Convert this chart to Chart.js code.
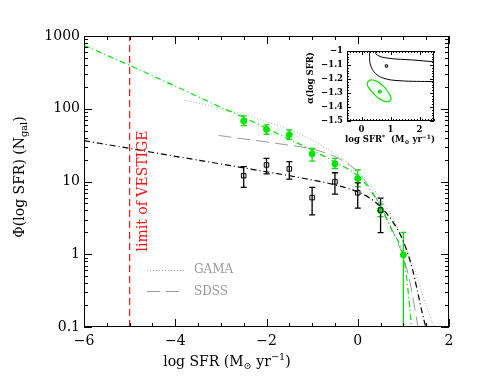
<!DOCTYPE html>
<html>
<head>
<meta charset="utf-8">
<script src="https://cdn.jsdelivr.net/npm/chart.js@4.4.1/dist/chart.umd.min.js"></script>
<style>
  html, body { margin: 0; padding: 0; background: #fff; }
  #wrap { position: relative; width: 491px; height: 387px; }
  #main { position: absolute; left: 0; top: 0; }
  #inset { position: absolute; left: 290px; top: 40px; }
</style>
</head>
<body>
<div id="wrap">
  <canvas id="main" width="491" height="387"></canvas>
  <canvas id="inset" width="155" height="112"></canvas>
</div>
<script>
// ---- main panel data ----
const gamaX = [-3.8, -3.5, -3, -2.5, -2, -1.5, -1, -0.5, 0, 0.25, 0.5, 0.75, 1, 1.25, 1.5, 1.7];
const gamaY = [130, 120, 101, 83, 66, 52, 37, 24, 14, 9.5, 5.8, 3.3, 1.5, 0.6, 0.2, 0.09];

const sdssX = [-3.05, -2.5, -2, -1.5, -1, -0.5, -0.25, 0, 0.25, 0.5, 0.75, 1, 1.15, 1.32];
const sdssY = [43, 38.5, 35, 31.5, 28, 22, 18, 13.5, 8.5, 4.6, 2.2, 0.9, 0.4, 0.1];

// Schechter fits drawn in the figure
const fitGreenX = [-6, -5, -4, -3, -2.5, -2, -1.5, -1, -0.5, 0, 0.25, 0.5, 0.75, 1, 1.1, 1.2];
const fitGreenY = [745, 395, 205, 105, 76, 54, 38, 27, 18.5, 12, 8, 4.5, 2.1, 0.93, 0.33, 0.07];

const fitBlackX = [-6, -5, -4, -3, -2, -1, -0.5, 0, 0.25, 0.5, 0.75, 1, 1.2, 1.3, 1.4, 1.55];
const fitBlackY = [36.4, 28.5, 22.2, 17.4, 13.6, 10.5, 9.0, 7.2, 6.0, 4.5, 2.9, 1.5, 0.62, 0.33, 0.17, 0.07];

// binned counts
const greenX = [-2.5, -2, -1.5, -1, -0.5, 0, 0.5, 1];
const greenY = [68, 52, 44, 24, 17.5, 11, 4.0, 0.98];
const greenLo = [58.5, 44.6, 38, 19.1, 15.1, 8.5, 3.3, null];
const greenHi = [80, 60, 51, 28.6, 20.8, 14.4, 4.9, 2.0];

const blackX = [-2.5, -2, -1.5, -1, -0.5, 0, 0.5];
const blackY = [12, 16.9, 14.9, 6.0, 9.9, 7.0, 4.05];
const blackLo = [8.3, 12.7, 10.8, 3.47, 6.7, 4.3, 1.98];
const blackHi = [16, 20.8, 18.7, 8.3, 13.2, 9.6, 5.9];

const limitX = [-5, -5];
const limitY = [0.1, 1000];

const xTickVals = [-6, -4, -2, 0, 2];
const yTickVals = [0.1, 1, 10, 100, 1000];

// ---- inset data ----
const contourX = [2.5, 1.75, 0.94, 0.55, 0.42, 0.3, 0.28, 0.31, 0.48, 0.77, 1.29, 2.5];
const contourY = [-1.077, -1.064, -1.052, -1.03, -0.99, -1.0, -1.04, -1.10, -1.16, -1.195, -1.212, -1.219];
const ellipseX = [0.42, 0.6, 0.8, 0.97, 1.02, 0.95, 0.8, 0.6, 0.4, 0.24, 0.2, 0.27, 0.42];
const ellipseY = [-1.207, -1.225, -1.26, -1.31, -1.34, -1.36, -1.36, -1.34, -1.3, -1.26, -1.235, -1.21, -1.207];
const bestBlack = [0.86, -1.107];
const bestGreen = [0.63, -1.29];
const insetXTicks = [0, 1, 2];
const insetYTicks = [-1.5, -1.4, -1.3, -1.2, -1.1, -1];

const GREEN = '#00e400';
const RED = '#ff1010';
const FONT = '"DejaVu Serif", serif';

const pts = (xs, ys) => xs.map((x, i) => ({ x, y: ys[i] }));
const minus = v => String(v).replace('-', '\u2212');

// text with sub/superscripts, centered at (cx, cy)
function drawRich(ctx, parts, cx, cy, size, weight) {
  weight = weight || '';
  let w = 0;
  parts.forEach(([t, k]) => {
    ctx.font = `${weight} ${k ? size * 0.7 : size}px ${FONT}`;
    w += ctx.measureText(t).width;
  });
  let x = cx - w / 2;
  ctx.textAlign = 'left';
  ctx.textBaseline = 'middle';
  parts.forEach(([t, k]) => {
    const s = k ? size * 0.7 : size;
    ctx.font = `${weight} ${s}px ${FONT}`;
    ctx.fillText(t, x, cy + (k < 0 ? s * 0.45 : k > 0 ? -s * 0.5 : 0));
    x += ctx.measureText(t).width;
  });
}

// inward ticks on all four sides + frame
function drawBoxTicks(chart, xt, yt) {
  const ctx = chart.ctx;
  const a = chart.chartArea;
  const sx = chart.scales.x, sy = chart.scales.y;
  ctx.save();
  ctx.fillStyle = '#000';
  xt.forEach(([v, len]) => {
    const p = Math.round(sx.getPixelForValue(v));
    ctx.fillRect(p, a.bottom - len, 1, len);
    ctx.fillRect(p, a.top, 1, len);
  });
  yt.forEach(([v, len]) => {
    const p = Math.round(sy.getPixelForValue(v));
    ctx.fillRect(a.left, p, len, 1);
    ctx.fillRect(a.right - len, p, len, 1);
  });
  ctx.strokeStyle = '#000';
  ctx.lineWidth = 1;
  ctx.strokeRect(a.left + 0.5, a.top + 0.5, a.right - a.left - 1, a.bottom - a.top - 1);
  ctx.restore();
}

function drawErrBars(chart, xs, ys, lo, hi, color) {
  const { ctx, chartArea: a } = chart;
  const sx = chart.scales.x, sy = chart.scales.y;
  ctx.save();
  ctx.beginPath();
  ctx.rect(a.left, a.top, a.right - a.left, a.bottom - a.top);
  ctx.clip();
  ctx.strokeStyle = color;
  ctx.lineWidth = 1.3;
  ctx.beginPath();
  xs.forEach((v, i) => {
    const px = sx.getPixelForValue(v);
    const top = sy.getPixelForValue(hi[i]);
    const bot = lo[i] == null ? a.bottom + 2 : sy.getPixelForValue(lo[i]);
    ctx.moveTo(px, top); ctx.lineTo(px, bot);
    ctx.moveTo(px - 3, top); ctx.lineTo(px + 3, top);
    if (lo[i] != null) { ctx.moveTo(px - 3, bot); ctx.lineTo(px + 3, bot); }
  });
  ctx.stroke();
  ctx.restore();
}

// tick positions
const mainXT = [];
for (let i = -12; i <= 4; i++) mainXT.push([i / 2, i % 4 === 0 ? 8 : 4]);
const mainYT = [];
for (let d = -1; d <= 3; d++) {
  for (let m = 1; m <= 9; m++) {
    const v = m * Math.pow(10, d);
    if (v <= 1000.001) mainYT.push([v, m === 1 ? 8 : 4]);
  }
}

const mainDecor = {
  id: 'mainDecor',
  beforeDatasetsDraw(chart) {
    drawErrBars(chart, greenX, greenY, greenLo, greenHi, GREEN);
    drawErrBars(chart, blackX, blackY, blackLo, blackHi, '#000');
  },
  afterDraw(chart) {
    const ctx = chart.ctx;
    drawBoxTicks(chart, mainXT, mainYT);
    ctx.save();
    ctx.fillStyle = '#000';
    // x title
    drawRich(ctx, [['log SFR (M', 0], ['\u2299', -1], [' yr', 0], ['\u22121', 1], [')', 0]], 227, 362, 14);
    // y title
    ctx.translate(20, 177);
    ctx.rotate(-Math.PI / 2);
    drawRich(ctx, [['\u03A6(log SFR) (N', 0], ['gal', -1], [')', 0]], 0, 0, 14);
    ctx.restore();

    // red label
    ctx.save();
    ctx.translate(143, 191);
    ctx.rotate(-Math.PI / 2);
    ctx.fillStyle = RED;
    ctx.font = `14px ${FONT}`;
    ctx.textAlign = 'center';
    ctx.textBaseline = 'middle';
    ctx.fillText('limit of VESTIGE', 0, 0);
    ctx.restore();

    // legend
    ctx.save();
    ctx.lineWidth = 1;
    ctx.strokeStyle = '#aaaaaa';
    ctx.setLineDash([1, 2]);
    ctx.beginPath(); ctx.moveTo(147, 270.5); ctx.lineTo(185, 270.5); ctx.stroke();
    ctx.strokeStyle = '#999999';
    ctx.setLineDash([13, 6]);
    ctx.beginPath(); ctx.moveTo(147, 291.5); ctx.lineTo(185, 291.5); ctx.stroke();
    ctx.setLineDash([]);
    ctx.fillStyle = '#999999';
    ctx.font = `12px ${FONT}`;
    ctx.textAlign = 'left';
    ctx.textBaseline = 'middle';
    ctx.fillText('GAMA', 194, 270);
    ctx.fillText('SDSS', 194, 292);
    ctx.restore();
  }
};

new Chart(document.getElementById('main'), {
  type: 'line',
  data: {
    datasets: [
      { data: pts(blackX, blackY), showLine: false, pointStyle: 'rect', pointRadius: 3.2,
        borderColor: '#000', backgroundColor: 'rgba(255,255,255,0)', pointBorderWidth: 1 },
      { data: pts(greenX, greenY), showLine: false, pointStyle: 'circle', pointRadius: 3,
        borderColor: GREEN, backgroundColor: GREEN, pointBorderWidth: 1 },
      { data: pts(fitBlackX, fitBlackY), borderColor: '#000', borderWidth: 1.2,
        borderDash: [6, 3, 1, 3], pointRadius: 0, cubicInterpolationMode: 'monotone' },
      { data: pts(fitGreenX, fitGreenY), borderColor: GREEN, borderWidth: 1.2,
        borderDash: [6, 3, 1, 3], pointRadius: 0, cubicInterpolationMode: 'monotone' },
      { data: pts(sdssX, sdssY), borderColor: '#999999', borderWidth: 1,
        borderDash: [13, 6], pointRadius: 0, cubicInterpolationMode: 'monotone' },
      { data: pts(gamaX, gamaY), borderColor: '#aaaaaa', borderWidth: 1,
        borderDash: [1, 2], pointRadius: 0, cubicInterpolationMode: 'monotone' },
      { data: pts(limitX, limitY), borderColor: RED, borderWidth: 1.2,
        borderDash: [7, 4], pointRadius: 0 }
    ]
  },
  options: {
    responsive: false,
    animation: false,
    layout: { padding: { top: 36, right: 42, left: 0, bottom: 0 } },
    plugins: { legend: { display: false }, tooltip: { enabled: false } },
    scales: {
      x: {
        type: 'linear', min: -6, max: 2,
        afterBuildTicks: s => { s.ticks = xTickVals.map(v => ({ value: v })); },
        afterFit: s => { s.height = 60; },
        grid: { display: false, drawTicks: false },
        border: { display: false },
        ticks: { color: '#000', font: { family: FONT, size: 14 }, padding: 6,
          maxRotation: 0, callback: v => minus(v) }
      },
      y: {
        type: 'logarithmic', min: 0.1, max: 1000,
        afterBuildTicks: s => { s.ticks = yTickVals.map(v => ({ value: v })); },
        afterFit: s => { s.width = 84; },
        grid: { display: false, drawTicks: false },
        border: { display: false },
        ticks: { color: '#000', font: { family: FONT, size: 14 }, padding: 4,
          callback: v => (v < 1 ? '0.1' : String(Math.round(v))) }
      }
    }
  },
  plugins: [mainDecor]
});

// ---- inset ----
const insXT = [];
for (let i = -5; i <= 25; i++) insXT.push([i / 10, i % 10 === 0 ? 4 : 2]);
const insYT = [];
for (let i = 0; i <= 25; i++) insYT.push([-1.5 + i * 0.02, i % 5 === 0 ? 4 : 2]);

const insetDecor = {
  id: 'insetDecor',
  afterDraw(chart) {
    const ctx = chart.ctx;
    drawBoxTicks(chart, insXT, insYT);
    ctx.save();
    ctx.fillStyle = '#000';
    drawRich(ctx, [['log SFR', 0], ['*', 1], ['  (M', 0], ['\u2299', -1], [' yr', 0], ['\u22121', 1], [')', 0]], 100, 100, 8.5, 'bold');
    ctx.translate(21, 38);
    ctx.rotate(-Math.PI / 2);
    drawRich(ctx, [['\u03B1(log SFR)', 0]], 0, 0, 8.5, 'bold');
    ctx.restore();
  }
};

new Chart(document.getElementById('inset'), {
  type: 'line',
  data: {
    datasets: [
      { data: [{ x: bestBlack[0], y: bestBlack[1] }], showLine: false, pointStyle: 'rect',
        pointRadius: 1.6, borderColor: '#000', backgroundColor: 'rgba(255,255,255,0)', pointBorderWidth: 1 },
      { data: [{ x: bestGreen[0], y: bestGreen[1] }], showLine: false, pointStyle: 'circle',
        pointRadius: 1.6, borderColor: GREEN, backgroundColor: GREEN },
      { data: pts(contourX, contourY), borderColor: '#000', borderWidth: 1, pointRadius: 0,
        tension: 0.4, clip: 0 },
      { data: pts(ellipseX, ellipseY), borderColor: GREEN, borderWidth: 1.2, pointRadius: 0,
        tension: 0.4, clip: 0 }
    ]
  },
  options: {
    responsive: false,
    animation: false,
    layout: { padding: { top: 11, right: 11, left: 0, bottom: 0 } },
    plugins: { legend: { display: false }, tooltip: { enabled: false } },
    scales: {
      x: {
        type: 'linear', min: -0.5, max: 2.5,
        afterBuildTicks: s => { s.ticks = insetXTicks.map(v => ({ value: v })); },
        afterFit: s => { s.height = 31; },
        grid: { display: false, drawTicks: false },
        border: { display: false },
        ticks: { color: '#000', font: { family: FONT, size: 8.5, weight: 'bold' }, padding: 4,
          maxRotation: 0, callback: v => minus(v) }
      },
      y: {
        type: 'linear', min: -1.5, max: -1,
        afterBuildTicks: s => { s.ticks = insetYTicks.map(v => ({ value: v })); },
        afterFit: s => { s.width = 57; },
        grid: { display: false, drawTicks: false },
        border: { display: false },
        ticks: { color: '#000', font: { family: FONT, size: 8.5, weight: 'bold' }, padding: 4,
          callback: v => minus(v === -1 ? '-1' : v.toFixed(1)) }
      }
    }
  },
  plugins: [insetDecor]
});
</script>
</body>
</html>
